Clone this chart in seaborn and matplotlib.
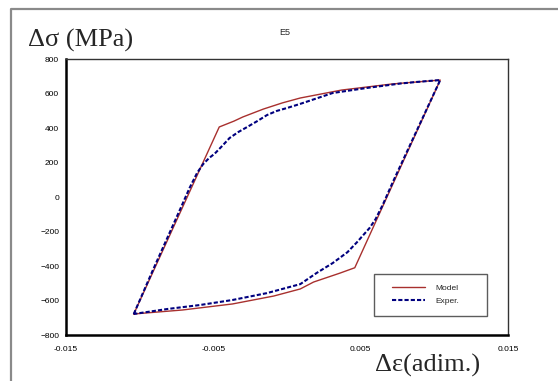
import matplotlib
matplotlib.use("Agg")
import matplotlib.pyplot as plt
from matplotlib.lines import Line2D
from matplotlib.legend_handler import HandlerLine2D
from matplotlib.ticker import FixedLocator, FixedFormatter, MultipleLocator
import pandas as pd
import seaborn as sns

# Hysteresis loop, test E5: strain range vs stress range
model_strain = [-0.0104, -0.0046, -0.0036, -0.0030, -0.0016, -0.0003, 0.0009, 0.0037, 0.0071, 0.0104,
                0.0046, 0.0036, 0.0018, 0.0009, -0.0009, -0.0037, -0.0071, -0.0104]
model_stress = [-678, 406, 440, 464, 510, 546, 574, 620, 655, 678,
                -410, -441, -493, -533, -574, -620, -655, -678]

exp_strain = [-0.0104, -0.0091, -0.0073, -0.0066, -0.0061, -0.0057, -0.0053, -0.0049, -0.0044,
              -0.0039, -0.0033, -0.0027, -0.0020, -0.00136, -0.0007, 0.0, 0.0009, 0.0031, 0.0054,
              0.0077, 0.0088, 0.0104,
              0.0072, 0.0065, 0.0060, 0.0056, 0.0051, 0.00475, 0.0041, 0.0031, 0.0020, 0.0009,
              -0.00136, -0.0037, -0.0059, -0.0081, -0.0104]
exp_stress = [-678, -423, -80, 55, 140, 190, 225, 252, 296,
              342, 377, 406, 441, 475, 499, 516, 540, 603, 632,
              658, 667, 678,
              90, -45, -130, -180, -228, -262, -320, -383, -441, -505,
              -557, -597, -626, -649, -678]

x_ticks = [-0.015, -0.005, 0.005, 0.015]
x_tick_labels = ["-0.015", "-0.005", "0.005", "0.015"]
y_ticks = [-800, -600, -400, -200, 0, 200, 400, 600, 800]

model_df = pd.DataFrame({"strain": model_strain, "stress": model_stress})
exp_df = pd.DataFrame({"strain": exp_strain, "stress": exp_stress})

sns.set_style("white")
plt.rcParams["font.family"] = ["Liberation Sans", "DejaVu Sans"]

fig = plt.figure(figsize=(5.58, 3.81), dpi=100)
ax = fig.add_axes([0.1183, 0.1207, 0.7921, 0.7244])

sns.lineplot(data=model_df, x="strain", y="stress", sort=False, estimator=None,
             color="#A8302E", linewidth=1.0, label="Model", ax=ax)
sns.lineplot(data=exp_df, x="strain", y="stress", sort=False, estimator=None,
             color="#00007F", linewidth=1.5, linestyle=(0, (2.0, 1.0)),
             label="Exper.", ax=ax)

ax.set_xlim(-0.015, 0.015)
ax.set_ylim(-800, 800)
ax.xaxis.set_major_locator(FixedLocator(x_ticks))
ax.xaxis.set_major_formatter(FixedFormatter(x_tick_labels))
ax.xaxis.set_minor_locator(FixedLocator([-0.01, 0.0, 0.01]))
ax.yaxis.set_major_locator(FixedLocator(y_ticks))
ax.yaxis.set_minor_locator(MultipleLocator(100))
ax.tick_params(axis="both", which="both", direction="in", colors="black", labelsize=6)
ax.tick_params(axis="x", which="major", length=3.5, width=1.0, pad=8)
ax.tick_params(axis="x", which="minor", length=2, width=0.8)
ax.tick_params(axis="y", which="major", length=3.5, width=1.0, pad=5)
ax.tick_params(axis="y", which="minor", length=2.5, width=0.8)
ax.set_xlabel("")
ax.set_ylabel("")
ax.grid(False)

for side in ["left", "bottom"]:
    ax.spines[side].set_color("black")
    ax.spines[side].set_linewidth(1.8)
for side in ["top", "right"]:
    ax.spines[side].set_color("#333333")
    ax.spines[side].set_linewidth(1.0)

leg = ax.legend(loc="lower left", bbox_to_anchor=(0.697, 0.069, 0.255, 0.156), mode="expand",
                fontsize=6, frameon=True, fancybox=False, handlelength=4.8,
                handletextpad=1.3, borderpad=1.3, labelspacing=0.6, borderaxespad=0,
                handler_map={Line2D: HandlerLine2D(xpad=0.8)})
leg.get_frame().set_edgecolor("#333333")
leg.get_frame().set_linewidth(1.0)

fig.text(0.05, 0.877, "Δσ (MPa)", fontsize=19, family=["Liberation Serif", "DejaVu Serif"],
         ha="left", va="baseline")
fig.text(0.5, 0.915, "E5", fontsize=6.5, ha="left", va="center")
fig.text(0.672, 0.024, "Δε(adim.)", fontsize=19, family=["Liberation Serif", "DejaVu Serif"],
         ha="left", va="baseline")

# outer panel frame
fig.add_artist(Line2D([0.0197, 0.0197, 1.0], [0.0, 0.976, 0.976], transform=fig.transFigure,
                      color="#8a8a8a", linewidth=1.6))

fig.savefig("out.png", dpi=100)
